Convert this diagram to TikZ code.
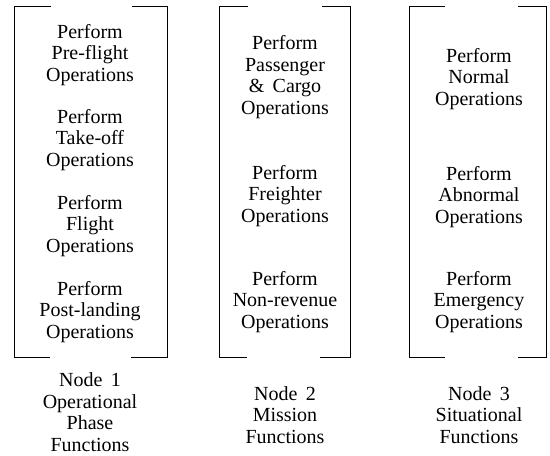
\documentclass[tikz,border=0pt]{standalone}
\usepackage{fontspec}
\setmainfont{Liberation Serif}
\usepackage{tikz}
\usetikzlibrary{positioning}

\begin{document}
\begin{tikzpicture}[
      x=1pt,y=-1pt,
      fn/.style={align=center,inner sep=0pt,font=\fontsize{20}{21.5}\selectfont},
      brk/.style={line width=0.9pt}
    ]
    \useasboundingbox (0,0) rectangle (550,456);

    % Node 1: operational phase
    \draw[brk] (51,6) -- (14,6) -- (14,357) -- (50,357);
    \draw[brk] (132,6) -- (167,6) -- (167,357) -- (131,357);
    \node[fn] (pre)      at (90,55)  {Perform\\Pre-flight\\Operations};
    \node[fn] (takeoff)  at (90,140) {Perform\\Take-off\\Operations};
    \node[fn] (flight)   at (90,226) {Perform\\Flight\\Operations};
    \node[fn] (postland) at (90,312) {Perform\\Post-landing\\Operations};
    \node[fn] (lbl1)     at (90,412) {Node\ \,1\\Operational\\Phase\\Functions};

    % Node 2: mission
    \draw[brk] (248,6) -- (219,6) -- (219,357) -- (247,357);
    \draw[brk] (322,6) -- (350,6) -- (350,357) -- (320,357);
    \node[fn] (pax)     at (285,77)  {Perform\\Passenger\\\&\ \,Cargo\\Operations};
    \node[fn] (freight) at (285,196) {Perform\\Freighter\\Operations};
    \node[fn] (nonrev)  at (285,302) {Perform\\Non-revenue\\Operations};
    \node[fn] (lbl2)    at (285,415) {Node\ \,2\\Mission\\Functions};

    % Node 3: situational
    \draw[brk] (445,6) -- (409,6) -- (409,357) -- (445,357);
    \draw[brk] (518,6) -- (546,6) -- (546,357) -- (518,357);
    \node[fn] (normal)   at (479,79)  {Perform\\Normal\\Operations};
    \node[fn] (abnormal) at (479,197) {Perform\\Abnormal\\Operations};
    \node[fn] (emerg)    at (479,302) {Perform\\Emergency\\Operations};
    \node[fn] (lbl3)     at (479,415) {Node\ \,3\\Situational\\Functions};

  \end{tikzpicture}
\end{document}
